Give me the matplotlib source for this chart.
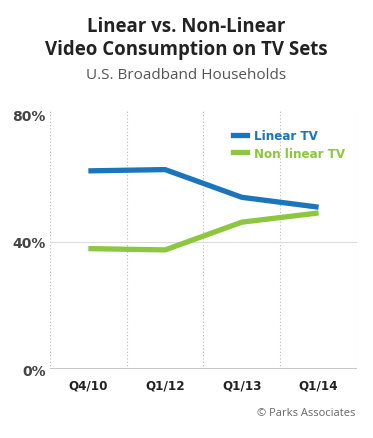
import matplotlib
matplotlib.use('Agg')
import matplotlib.pyplot as plt
from matplotlib.lines import Line2D

# dados
periodos = ['Q4/10', 'Q1/12', 'Q1/13', 'Q1/14']
linear_tv = [62.2, 62.6, 53.9, 50.8]
non_linear_tv = [37.8, 37.4, 46.1, 49.0]
yticks = [0, 40, 80]
ytick_labels = ['0%', '40%', '80%']

azul = '#1b75bb'
verde = '#8dc63f'
cinza = '#444444'

fig = plt.figure(figsize=(3.73, 4.39), dpi=100)
ax = fig.add_axes([0.134, 0.157, 0.823, 0.588])

x = list(range(len(periodos)))
ax.plot(x, linear_tv, color=azul, linewidth=3.8, solid_capstyle='butt', zorder=3)
ax.plot(x, non_linear_tv, color=verde, linewidth=3.8, solid_capstyle='butt', zorder=3)

ax.set_xlim(-0.5, len(periodos) - 0.5)
ax.set_ylim(0, 81)

# grades verticais pontilhadas entre as categorias
for b in [i - 0.5 for i in range(len(periodos) + 1)]:
    ax.axvline(b, color='#b8b8b8', linestyle=(0, (1, 2)), linewidth=0.8, zorder=1)
ax.axhline(40, color='#dddddd', linewidth=0.8, zorder=1)
ax.axhline(0, color='#bbbbbb', linewidth=1.2, zorder=2)

for s in ax.spines.values():
    s.set_visible(False)

ax.set_yticks(yticks)
ax.set_yticklabels(ytick_labels, fontsize=10, fontweight='bold', color=cinza)
ax.set_xticks(x)
ax.set_xticklabels(periodos, fontsize=9.5, fontweight='bold', color='#222222',
                   family='DejaVu Sans', stretch='condensed')
ax.tick_params(length=0)
ax.tick_params(axis='y', pad=3)
ax.tick_params(axis='x', pad=7)

handles = [Line2D([0], [0], color=azul, linewidth=3.8),
           Line2D([0], [0], color=verde, linewidth=3.8)]
leg = ax.legend(handles, ['Linear TV', 'Non linear TV'], loc='upper right',
                bbox_to_anchor=(1.0, 0.975), frameon=False, handlelength=1.1,
                handletextpad=0.5, labelspacing=0.35,
                prop={'family': 'DejaVu Sans', 'stretch': 'condensed', 'weight': 'bold', 'size': 9.5})
for t, c in zip(leg.get_texts(), [azul, verde]):
    t.set_color(c)

fig.text(0.5, 0.913, 'Linear vs. Non-Linear\nVideo Consumption on TV Sets',
         ha='center', va='center', fontsize=13.4, fontweight='bold', color='#222222',
         family='Open Sans', linespacing=1.2)
fig.text(0.5, 0.829, 'U.S. Broadband Households', ha='center', va='center',
         fontsize=11, color='#555555', family='Open Sans')
fig.text(0.953, 0.057, '\u00a9 Parks Associates', ha='right', va='center',
         fontsize=8, color='#666666', family='Open Sans')

fig.savefig('out.png', dpi=100)
